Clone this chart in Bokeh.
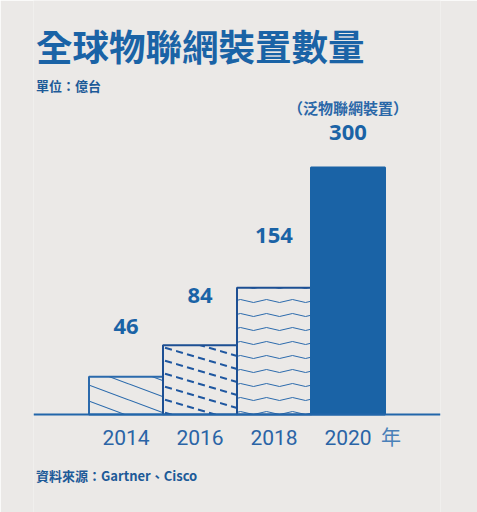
import base64
from bokeh.plotting import figure
from bokeh.models import (ColumnDataSource, Label, Range1d, FactorRange,
                          ImageURLTexture, CategoricalAxis)
from bokeh.embed import file_html
from bokeh.resources import INLINE

years = ['2014', '2016', '2018', '2020']
values = [46, 84, 154, 300]
value_labels = ['46', '84', '154', '300']
title_text = '全球物聯網裝置數量'
unit_text = '單位：億台'
note_text = '（泛物聯網裝置）'
source_text = '資料來源：Gartner、Cisco'
year_suffix = '年'

BG = '#ebe9e7'
BLUE = '#1a63a6'
NAVY = '#1d4f93'


def svg_tile(svg):
    return 'data:image/svg+xml;base64,' + base64.b64encode(svg.encode()).decode()


# hand made pattern tiles for the three hatched bars
slash = svg_tile(
    "<svg xmlns='http://www.w3.org/2000/svg' width='43' height='16'>"
    "<g stroke='#2b6aac' stroke-width='1.1'>"
    "<line x1='0' y1='0' x2='43' y2='16'/><line x1='0' y1='-16' x2='43' y2='0'/>"
    "<line x1='0' y1='16' x2='43' y2='32'/></g></svg>")
dashed = svg_tile(
    "<svg xmlns='http://www.w3.org/2000/svg' width='44' height='13'>"
    "<g stroke='#1f57a0' stroke-width='2' stroke-dasharray='7.2 4.27'>"
    "<line x1='0' y1='0' x2='44' y2='13'/><line x1='0' y1='-13' x2='44' y2='0'/>"
    "<line x1='0' y1='13' x2='44' y2='26'/></g></svg>")
wave = svg_tile(
    "<svg xmlns='http://www.w3.org/2000/svg' width='26' height='14'>"
    "<path d='M0 7 Q6.5 4 13 7 T26 7' fill='none' stroke='#2b6aac' stroke-width='1'/>"
    "</svg>")

p = figure(x_range=FactorRange(*years, range_padding=0.75, range_padding_units='absolute'),
           y_range=Range1d(-119, 502.9),
           width=477, height=512,
           x_axis_location=None, y_axis_location=None,
           output_backend="svg", toolbar_location=None,
           min_border_left=33, min_border_right=37,
           min_border_top=0, min_border_bottom=0)
p.background_fill_color = BG
p.border_fill_color = BG
p.outline_line_color = None
p.xgrid.grid_line_color = None
p.ygrid.grid_line_color = None

source = ColumnDataSource(dict(
    years=years, values=values, labels=value_labels,
    fill=[BG, BG, BG, BLUE],
    line=['#2b6aac', NAVY, NAVY, BLUE],
    pattern=['a', 'b', 'c', ' '],
    offset=[-50, -50, -52, -35],
))

p.vbar(x='years', top='values', width=1.0, source=source,
       fill_color='fill', line_color='line', line_width=2,
       hatch_pattern='pattern',
       hatch_extra={'a': ImageURLTexture(url=slash),
                    'b': ImageURLTexture(url=dashed),
                    'c': ImageURLTexture(url=wave)})

p.text(x='years', y='values', text='labels', source=source, y_offset='offset',
       text_align='center', text_baseline='middle',
       text_font_size='22px', text_font_style='bold', text_color=BLUE,
       text_font={'value': 'Noto Sans'})

p.text(x=[years[-1]], y=[values[-1]], text=[note_text], y_offset=-60,
       text_align='center', text_baseline='middle',
       text_font_size='15px', text_font_style='bold', text_color='#2a67a8',
       text_font={'value': 'Noto Sans CJK TC'})

xaxis = CategoricalAxis(fixed_location=0)
xaxis.axis_line_color = '#2266aa'
xaxis.axis_line_width = 2
xaxis.major_tick_line_color = None
xaxis.minor_tick_line_color = None
xaxis.major_label_standoff = 9
xaxis.major_label_text_font_size = '21px'
xaxis.major_label_text_color = '#2a64a6'
xaxis.major_label_text_font = 'Liberation Sans Narrow, Roboto'
p.add_layout(xaxis, 'below')

p.add_layout(Label(x=-0.716, y=448, text=title_text, text_align='left',
                   text_baseline='middle', text_font_size='36.5px',
                   text_font_style='bold', text_color=BLUE,
                   text_font='Noto Sans CJK TC'))
p.add_layout(Label(x=-0.716, y=399.6, text=unit_text, text_align='left',
                   text_baseline='middle', text_font_size='13px',
                   text_font_style='bold', text_color='#1d5a98',
                   text_font='Noto Sans CJK TC'))
p.add_layout(Label(x=4.08, y=-26.7, text=year_suffix, text_align='center',
                   text_baseline='middle', text_font_size='20px',
                   text_color='#4a80b8', text_font='Noto Sans CJK TC'))
p.add_layout(Label(x=-0.716, y=-74, text=source_text, text_align='left',
                   text_baseline='middle', text_font_size='13px',
                   text_font_style='bold', text_color='#1d5a98',
                   text_font='Noto Sans CJK TC'))

open("out.html", "w").write(file_html(p, INLINE))
